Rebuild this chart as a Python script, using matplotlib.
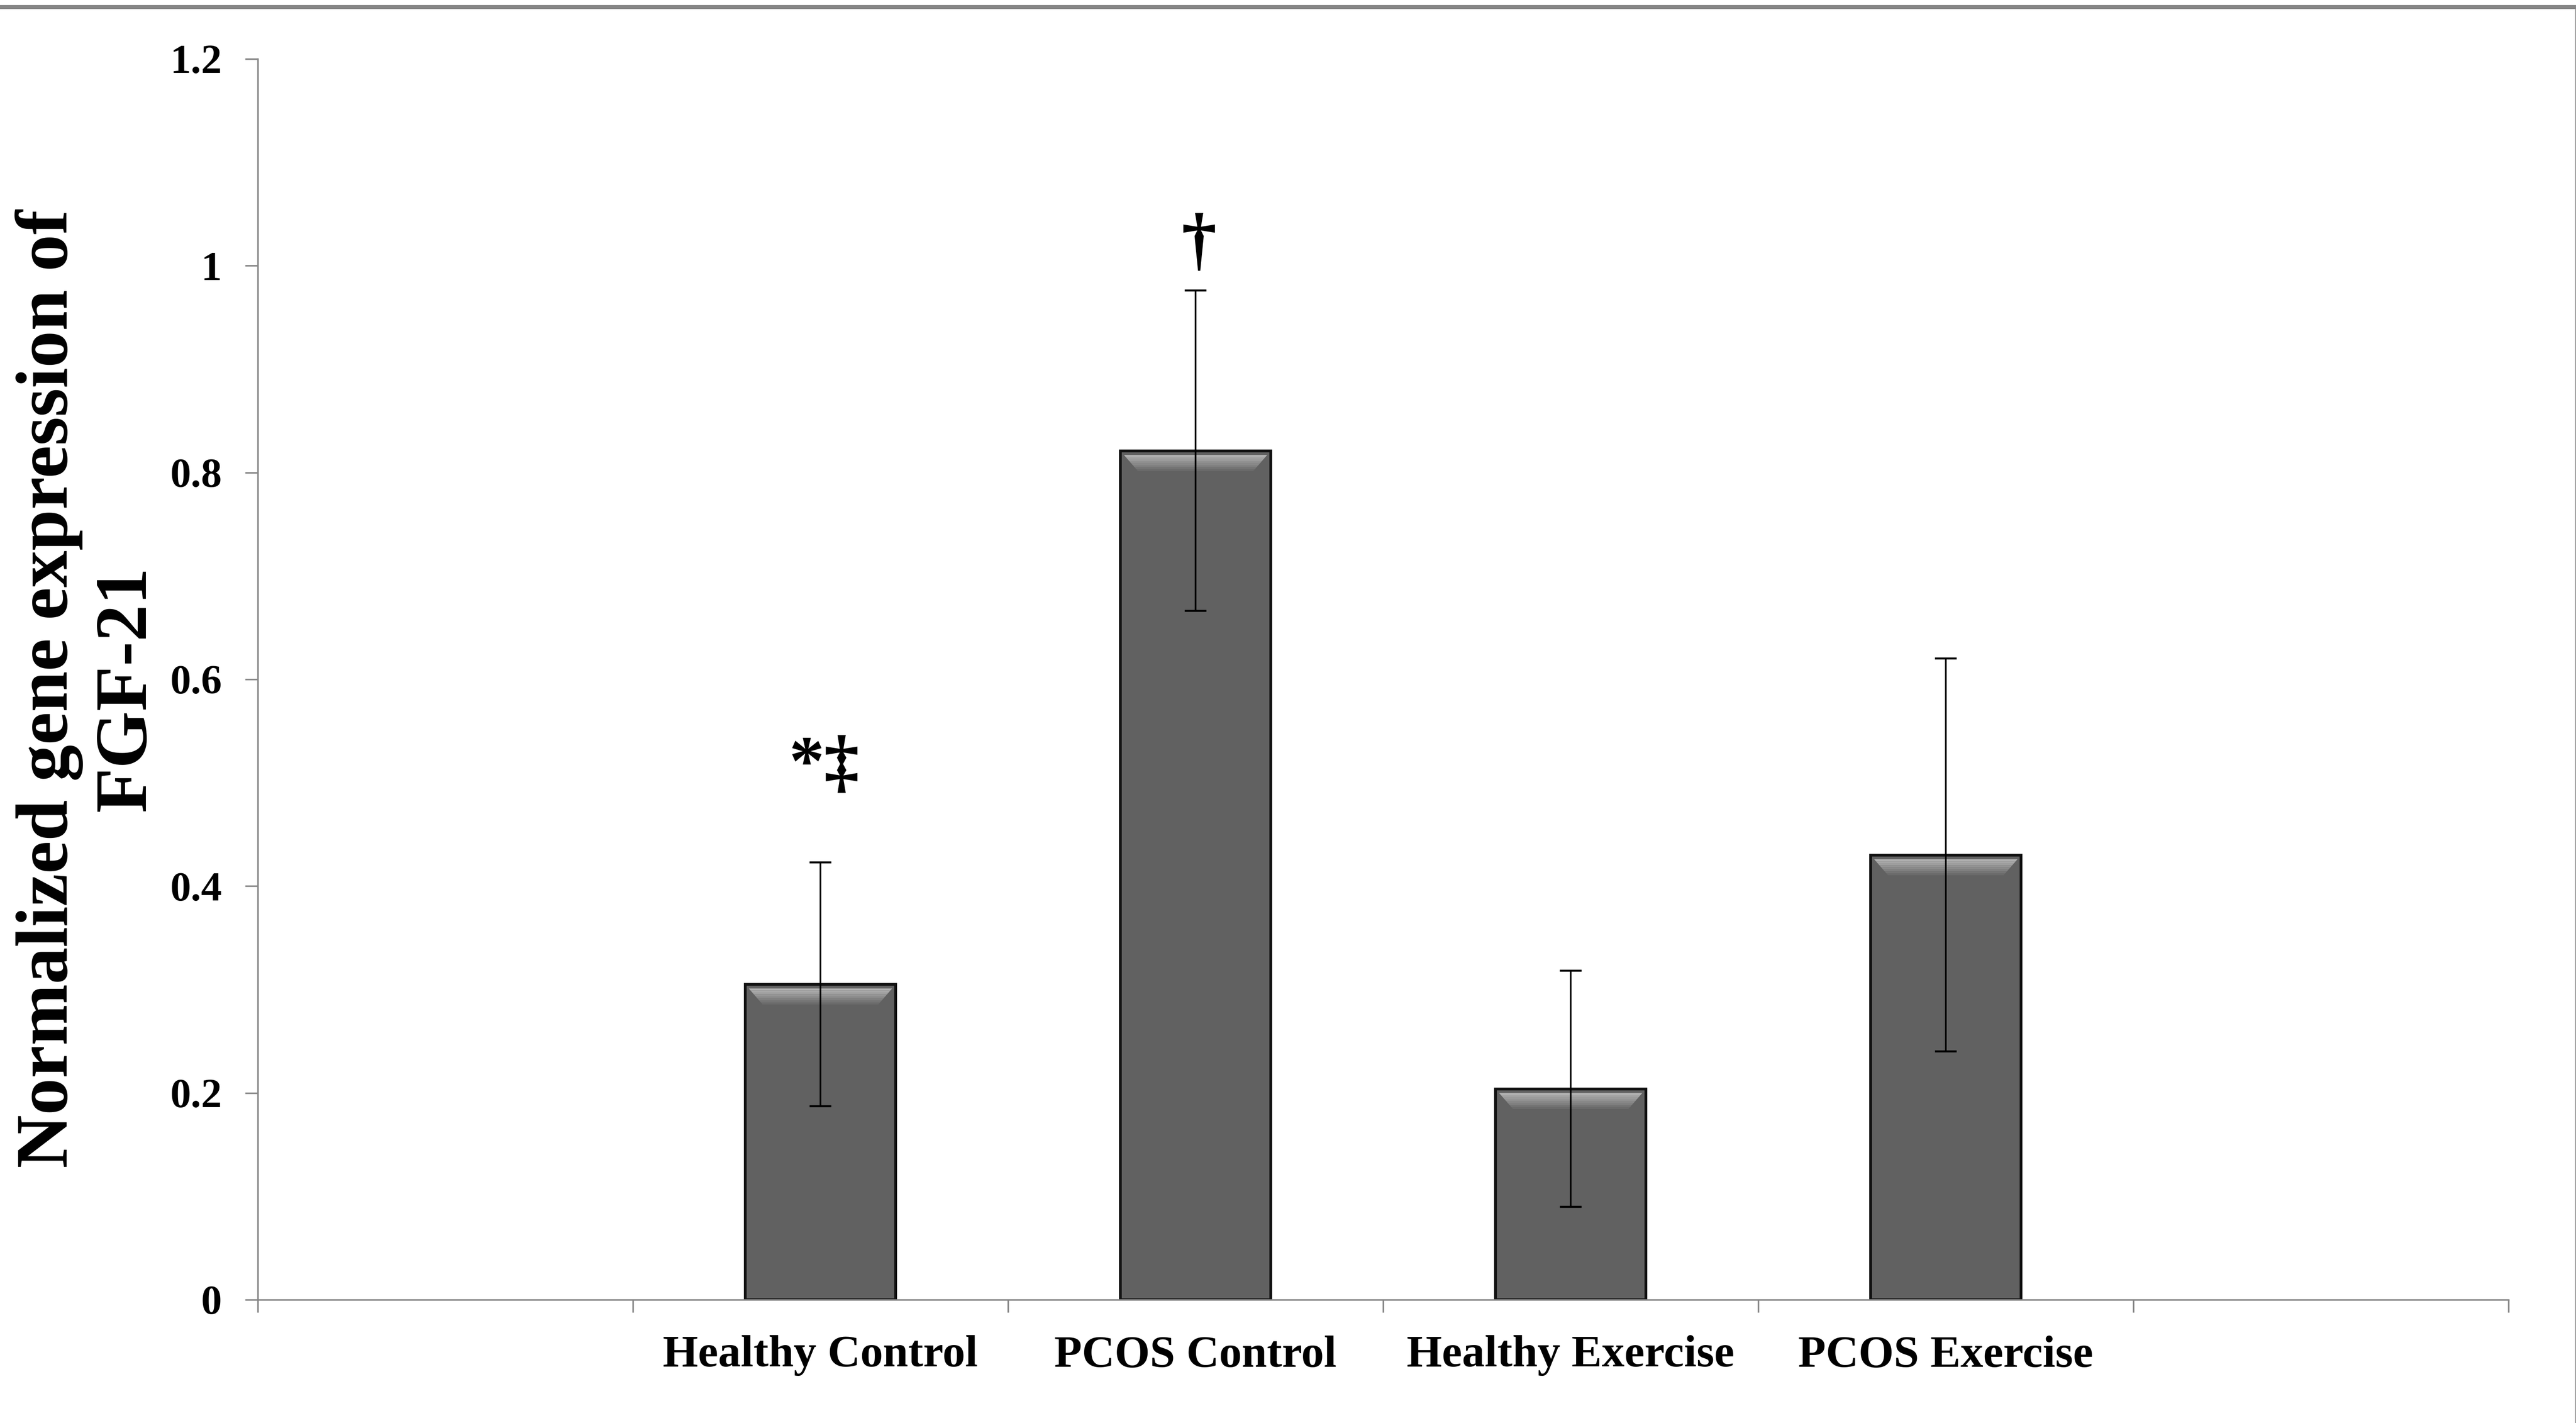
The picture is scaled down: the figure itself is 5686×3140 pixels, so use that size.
import matplotlib
matplotlib.use('Agg')
import matplotlib.pyplot as plt
import numpy as np
from matplotlib.patches import Polygon
from matplotlib.lines import Line2D

# ---- data ----
categories = ['Healthy Control', 'PCOS Control', 'Healthy Exercise', 'PCOS Exercise']
means = [0.305, 0.821, 0.204, 0.430]
errors = [0.118, 0.155, 0.114, 0.190]
marks = ['*\u2021', '\u2020', '', '']
yticks = [0, 0.2, 0.4, 0.6, 0.8, 1.0, 1.2]
ytick_labels = ['0', '0.2', '0.4', '0.6', '0.8', '1', '1.2']

plt.rcParams['font.family'] = ['Liberation Serif', 'DejaVu Serif']
plt.rcParams['font.weight'] = 'bold'

W, H, DPI = 5686, 3140, 100
fig = plt.figure(figsize=(W / DPI, H / DPI), dpi=DPI)
fig.patch.set_facecolor('white')

ax = fig.add_axes([569 / W, 1 - 2868 / H, (5537 - 569) / W, (2868 - 130) / H])

gray = '#868686'
xpos = np.arange(1, len(categories) + 1)
bw = 0.4
ax.bar(xpos, means, width=bw, color='#616161', edgecolor='#111111',
       linewidth=4.4, zorder=2)

# bevel highlight on bar tops
n = 8
dy, dx = 0.0155, 0.037
iy, ix = 0.004, 0.009
for xc, m in zip(xpos, means):
    x0, x1 = xc - bw / 2 + ix, xc + bw / 2 - ix
    ytop = m - iy
    for k in range(n):
        f0, f1 = k / n, (k + 1) / n
        c = 0.72 - (0.72 - 0.40) * (k + 0.5) / n
        poly = Polygon([(x0 + dx * f0, ytop - dy * f0), (x1 - dx * f0, ytop - dy * f0),
                        (x1 - dx * f1, ytop - dy * f1), (x0 + dx * f1, ytop - dy * f1)],
                       closed=True, facecolor=(c, c, c), edgecolor='none', zorder=2.5)
        ax.add_patch(poly)

ax.errorbar(xpos, means, yerr=errors, fmt='none', ecolor='black',
            elinewidth=2.6, capsize=17, capthick=3.2, zorder=3)

# significance marks
mark_y = [0.515, 1.02, 0, 0]
for xc, s, yy in zip(xpos, marks, mark_y):
    if s:
        ax.text(xc + 0.01, yy, s, ha='center', va='center', fontsize=112,
                fontweight='bold', color='black', zorder=4)

ax.set_xlim(-0.5, len(categories) + 1.5)
ax.set_ylim(0, 1.2)
ax.set_yticks(yticks)
ax.set_yticklabels(ytick_labels, fontsize=66, fontweight='bold')
ax.set_xticks(xpos)
ax.set_xticklabels(categories, fontsize=72, fontweight='bold')
ax.set_xticks(np.arange(-0.5, len(categories) + 2, 1.0), minor=True)

ax.tick_params(axis='x', which='major', length=0, pad=56)
ax.tick_params(axis='x', which='minor', length=20, width=2.5, color=gray)
ax.tick_params(axis='y', which='major', length=20, width=2.5, color=gray, pad=37)

for sp in ['top', 'right']:
    ax.spines[sp].set_visible(False)
for sp in ['left', 'bottom']:
    ax.spines[sp].set_color(gray)
    ax.spines[sp].set_linewidth(2.5)

fig.text(194 / W, 1 - 1520 / H, 'Normalized gene expression of\nFGF-21',
         rotation=90, ha='center', va='center', fontsize=117, fontweight='bold',
         multialignment='center', linespacing=1.2)

# chart border (top and right)
fig.add_artist(Line2D([0, 1], [1 - 14.5 / H, 1 - 14.5 / H], transform=fig.transFigure,
                      color=gray, linewidth=6.5))
fig.add_artist(Line2D([1 - 1.0 / W, 1 - 1.0 / W], [0, 1 - 14.5 / H], transform=fig.transFigure,
                      color=gray, linewidth=1.2))

fig.savefig('out.png', dpi=DPI, facecolor='white')
